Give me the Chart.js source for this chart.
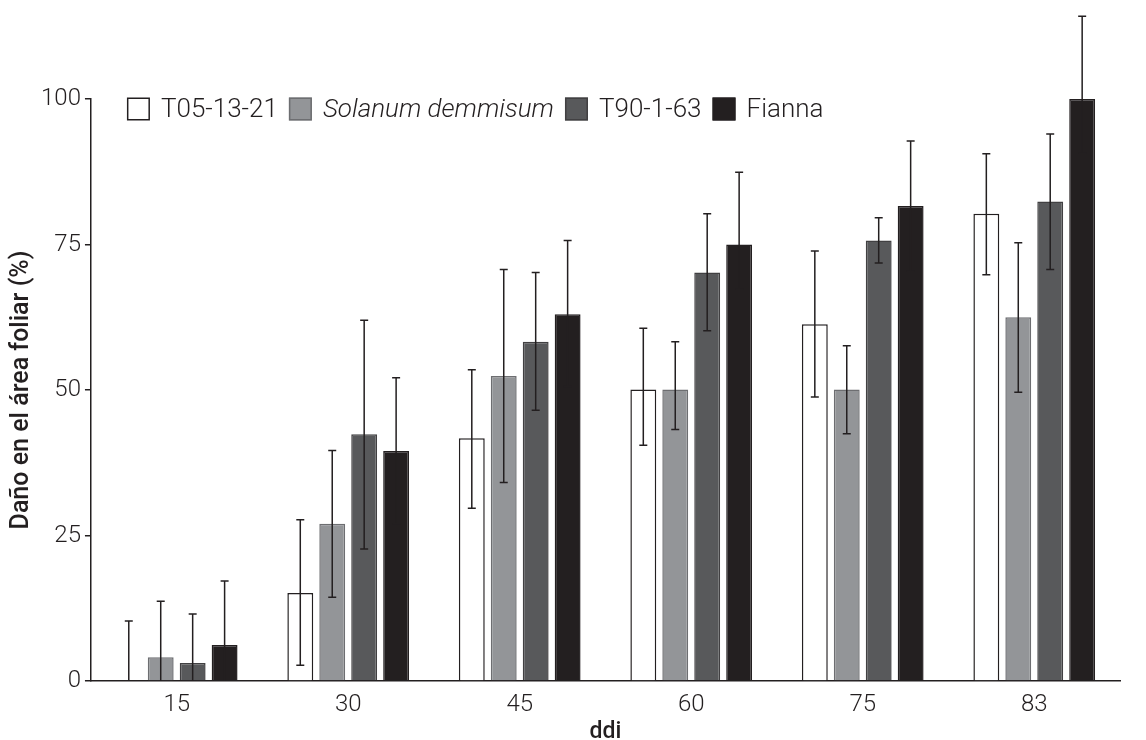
<!DOCTYPE html>
<html>
<head>
<meta charset="utf-8">
<script src="https://cdn.jsdelivr.net/npm/chart.js@4.4.1/dist/chart.umd.min.js"></script>
<style>
  body { margin: 0; background: #fff; }
  canvas { display: block; }
</style>
</head>
<body>
<canvas id="chart" width="1146" height="740"></canvas>
<script>
const categories = ["15", "30", "45", "60", "75", "83"];
const yTicks = [0, 25, 50, 75, 100];

// valores medios (%)
const t05 = [0, 15.1, 41.7, 50.1, 61.3, 80.3];
const solanum = [4.1, 27.0, 52.4, 50.1, 50.1, 62.5];
const t90 = [3.1, 42.4, 58.3, 70.2, 75.7, 82.4];
const fianna = [6.2, 39.5, 63.0, 75.0, 81.6, 100];

// extremos de las barras de error
const t05Low = [0, 2.7, 29.7, 40.5, 48.8, 69.8];
const t05High = [10.3, 27.7, 53.5, 60.6, 73.9, 90.6];
const solanumLow = [0, 14.4, 34.1, 43.2, 42.5, 49.6];
const solanumHigh = [13.7, 39.6, 70.7, 58.3, 57.6, 75.3];
const t90Low = [0, 22.7, 46.5, 60.2, 71.8, 70.7];
const t90High = [11.5, 62.0, 70.2, 80.3, 79.6, 94.0];
const fiannaLow = [0, 27.0, 50.6, 67.3, 70.4, 90.7];
const fiannaHigh = [17.2, 52.1, 75.7, 87.4, 92.8, 114.2];

const INK = "#231f20";
const TICK_FONT = { family: "Roboto", size: 24, weight: "300", lineHeight: 1 };

function makeSet(label, data, low, high, fill, border, italic) {
  return {
    label,
    data,
    errLow: low,
    errHigh: high,
    italic: !!italic,
    backgroundColor: fill,
    borderColor: border,
    borderWidth: 1.5,
    categoryPercentage: 0.745,
    barPercentage: 0.81,
  };
}

// barras de error
const errorBars = {
  id: "errorBars",
  afterDatasetsDraw(chart) {
    const ctx = chart.ctx;
    const y = chart.scales.y;
    ctx.save();
    ctx.strokeStyle = INK;
    ctx.lineWidth = 1.5;
    chart.data.datasets.forEach((ds, i) => {
      const meta = chart.getDatasetMeta(i);
      meta.data.forEach((bar, j) => {
        const lo = Math.max(0, ds.errLow[j]);
        const yLo = y.getPixelForValue(lo);
        const yHi = y.getPixelForValue(ds.errHigh[j]);
        const cap = 4;
        ctx.beginPath();
        ctx.moveTo(bar.x, yLo);
        ctx.lineTo(bar.x, yHi);
        ctx.moveTo(bar.x - cap, yHi);
        ctx.lineTo(bar.x + cap, yHi);
        if (ds.errLow[j] > 0) {
          ctx.moveTo(bar.x - cap, yLo);
          ctx.lineTo(bar.x + cap, yLo);
        }
        ctx.stroke();
      });
    });
    ctx.restore();
  },
};

// leyenda dentro del área (una etiqueta en cursiva)
const innerLegend = {
  id: "innerLegend",
  afterDraw(chart) {
    const ctx = chart.ctx;
    const area = chart.chartArea;
    const box = 23;
    let x = area.left + 36;
    const cy = area.top + 10;
    ctx.save();
    ctx.textBaseline = "middle";
    chart.data.datasets.forEach((ds) => {
      ctx.fillStyle = ds.backgroundColor;
      ctx.fillRect(x, cy - box / 2, box, box);
      ctx.strokeStyle = ds.borderColor;
      ctx.lineWidth = 1.5;
      ctx.strokeRect(x + 0.75, cy - box / 2 + 0.75, box - 1.5, box - 1.5);
      x += box + 11;
      ctx.font = (ds.italic ? "italic " : "") + "300 26px Roboto";
      ctx.fillStyle = INK;
      ctx.fillText(ds.label, x, cy + 1);
      x += ctx.measureText(ds.label).width + 11;
    });
    ctx.restore();
  },
};

new Chart(document.getElementById("chart"), {
  type: "bar",
  data: {
    labels: categories,
    datasets: [
      makeSet("T05-13-21", t05, t05Low, t05High, "#ffffff", INK),
      makeSet("Solanum demmisum", solanum, solanumLow, solanumHigh, "#939598", "#6d6e71", true),
      makeSet("T90-1-63", t90, t90Low, t90High, "#58595b", "#414042"),
      makeSet("Fianna", fianna, fiannaLow, fiannaHigh, INK, INK),
    ],
  },
  options: {
    responsive: false,
    animation: false,
    layout: { padding: { top: 99, right: 26, left: 7, bottom: -4 } },
    plugins: {
      legend: { display: false },
      tooltip: { enabled: false },
    },
    scales: {
      x: {
        grid: { display: false },
        border: { display: true, color: INK, width: 1.5 },
        ticks: { color: INK, font: TICK_FONT, padding: 4 },
        title: {
          display: true,
          text: "ddi",
          color: INK,
          font: { family: "Roboto", size: 23, weight: "500", lineHeight: 1 },
          padding: { top: 0, bottom: 0 },
        },
      },
      y: {
        min: 0,
        max: 100,
        afterBuildTicks: (axis) => {
          axis.ticks = yTicks.map((v) => ({ value: v }));
        },
        grid: {
          display: true,
          drawOnChartArea: false,
          drawTicks: true,
          tickLength: 6,
          color: INK,
          lineWidth: 1.5,
        },
        border: { display: true, color: INK, width: 1.5 },
        ticks: { color: INK, font: TICK_FONT, padding: 4 },
        title: {
          display: true,
          text: "Daño en el área foliar (%)",
          color: INK,
          font: { family: "Roboto", size: 25, weight: "500" },
          padding: { top: 0, bottom: 0 },
        },
      },
    },
  },
  plugins: [errorBars, innerLegend],
});
</script>
</body>
</html>
